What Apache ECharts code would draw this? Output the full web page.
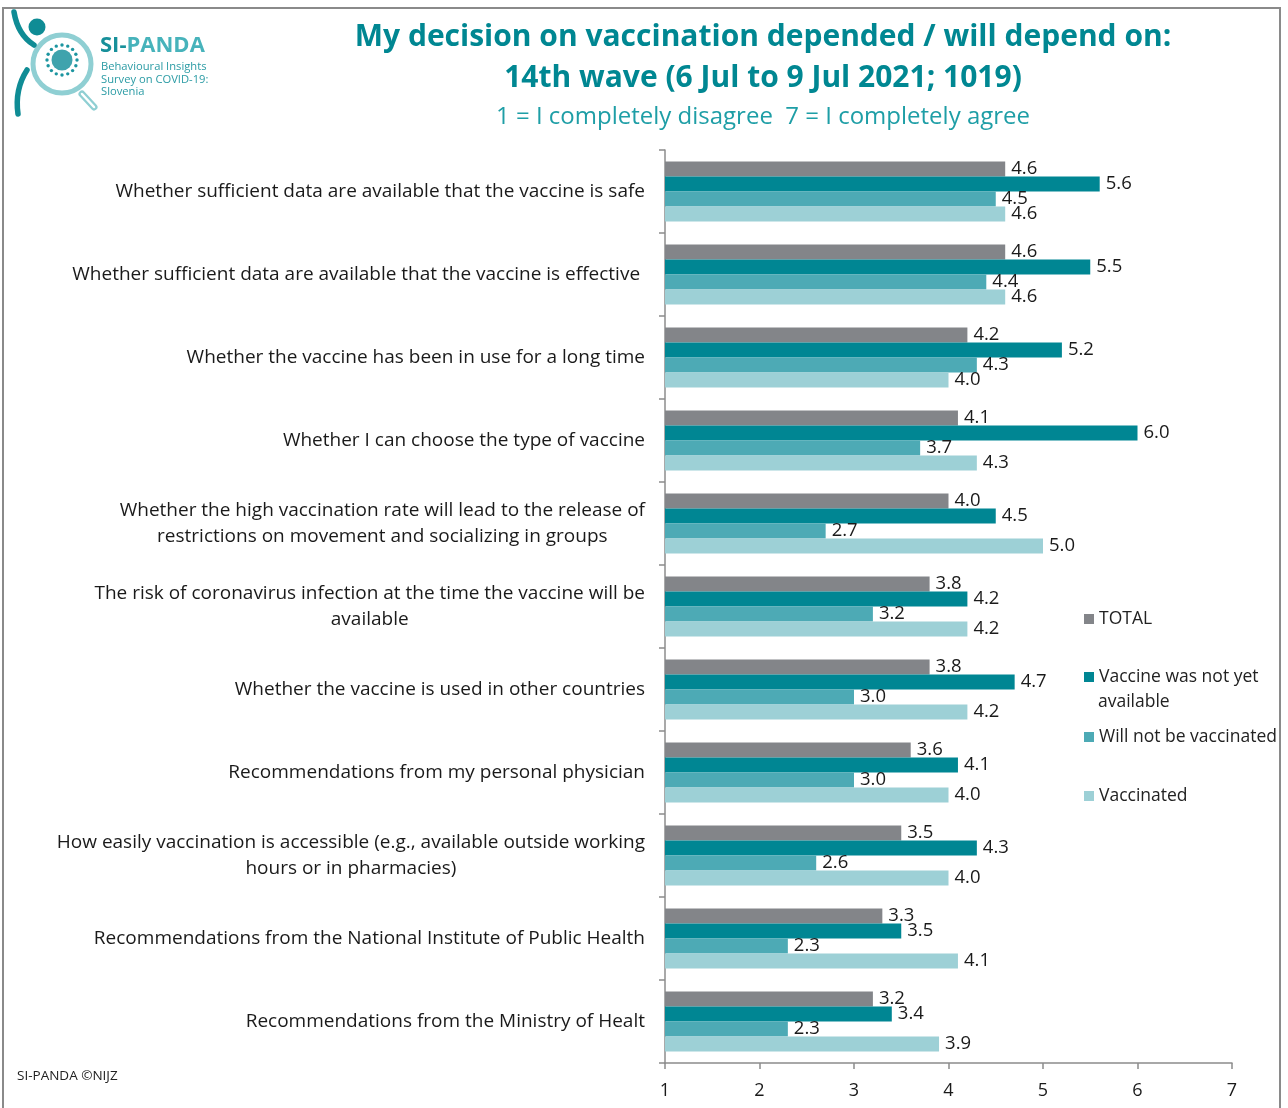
<!DOCTYPE html>
<html>
<head>
<meta charset="utf-8">
<title>SI-PANDA – vaccination decision factors</title>
<script src="https://cdn.jsdelivr.net/npm/echarts@6/dist/echarts.min.js"></script>
<style>
  html, body { margin: 0; padding: 0; background: #fff; }
  #chart { width: 1288px; height: 1108px; }
</style>
</head>
<body>
<div id="chart"></div>
<script>
// Survey items (top to bottom)
const categories = [
  'Whether sufficient data are available that the vaccine is safe',
  'Whether sufficient data are available that the vaccine is effective ',
  'Whether the vaccine has been in use for a long time',
  'Whether I can choose the type of vaccine',
  'Whether the high vaccination rate will lead to the release of\nrestrictions on movement and socializing in groups',
  'The risk of coronavirus infection at the time the vaccine will be\navailable',
  'Whether the vaccine is used in other countries',
  'Recommendations from my personal physician',
  'How easily vaccination is accessible (e.g., available outside working\nhours or in pharmacies)',
  'Recommendations from the National Institute of Public Health',
  'Recommendations from the Ministry of Healt'
];

const seriesNames = ['TOTAL', 'Vaccine was not yet available', 'Will not be vaccinated', 'Vaccinated'];

// Mean agreement (1–7) per group
const totalValues       = [4.6, 4.6, 4.2, 4.1, 4.0, 3.8, 3.8, 3.6, 3.5, 3.3, 3.2];
const notYetValues      = [5.6, 5.5, 5.2, 6.0, 4.5, 4.2, 4.7, 4.1, 4.3, 3.5, 3.4];
const willNotValues     = [4.5, 4.4, 4.3, 3.7, 2.7, 3.2, 3.0, 3.0, 2.6, 2.3, 2.3];
const vaccinatedValues  = [4.6, 4.6, 4.0, 4.3, 5.0, 4.2, 4.2, 4.0, 4.0, 4.1, 3.9];

const xTicks = [1, 2, 3, 4, 5, 6, 7];

const colors = ['#838589', '#008693', '#4DAAB5', '#9DD0D6'];
const FONT = '"Open Sans", "Noto Sans", sans-serif';

const chart = echarts.init(document.getElementById('chart'), null, { renderer: 'canvas' });

function barSeries(name, data, color) {
  return {
    name: name,
    type: 'bar',
    data: data,
    barWidth: 15,
    barGap: '0%',
    itemStyle: { color: color },
    label: {
      show: true,
      position: 'right',
      distance: 6,
      color: '#1a1a1a',
      fontFamily: FONT,
      fontSize: 18.5,
      formatter: p => p.value.toFixed(1)
    }
  };
}

// one legend block per series so each entry sits at its own height
function legendAt(name, top, text) {
  return {
    data: [name],
    left: 1079,
    top: top,
    orient: 'vertical',
    icon: 'rect',
    itemWidth: 10,
    itemHeight: 10,
    itemGap: 4,
    selectedMode: false,
    formatter: () => text,
    textStyle: { fontFamily: FONT, fontSize: 17.5, color: '#222' }
  };
}

const option = {
  animation: false,
  backgroundColor: '#fff',
  title: {
    text: 'My decision on vaccination depended / will depend on:\n14th wave (6 Jul to 9 Jul 2021; 1019)',
    subtext: '1 = I completely disagree  7 = I completely agree',
    left: 758,
    top: 12,
    textAlign: 'center',
    itemGap: 6,
    textStyle: { fontFamily: FONT, fontWeight: 'bold', fontSize: 30, lineHeight: 41, color: '#008792' },
    subtextStyle: { fontFamily: FONT, fontSize: 24, color: '#1E9EA6' }
  },
  legend: [
    legendAt(seriesNames[0], 605, 'TOTAL'),
    legendAt(seriesNames[1], 663, 'Vaccine was not yet'),
    legendAt(seriesNames[2], 723, 'Will not be vaccinated'),
    legendAt(seriesNames[3], 782, 'Vaccinated')
  ],
  grid: { left: 665, right: 56, top: 150, bottom: 45, containLabel: false },
  xAxis: {
    type: 'value',
    min: 1,
    max: 7,
    interval: 1,
    splitLine: { show: false },
    axisLine: { show: true, lineStyle: { color: '#8c8c8c', width: 1.5 } },
    axisTick: { show: true, length: 6, lineStyle: { color: '#8c8c8c', width: 1.5 } },
    axisLabel: {
      fontFamily: FONT, fontSize: 18, color: '#1a1a1a', margin: 19,
      formatter: v => xTicks.includes(v) ? String(v) : ''
    }
  },
  yAxis: {
    type: 'category',
    inverse: true,
    data: categories,
    axisLine: { show: true, lineStyle: { color: '#8c8c8c', width: 1.5 } },
    axisTick: { show: true, length: 6, lineStyle: { color: '#8c8c8c', width: 1.5 } },
    axisLabel: {
      margin: 20,
      fontFamily: FONT,
      fontSize: 19,
      color: '#1a1a1a',
      lineHeight: 26,
      formatter: v => v.split('\n').map(l => '{c|' + l + '}').join('\n'),
      rich: { c: { align: 'center', fontFamily: FONT, fontSize: 19, color: '#1a1a1a', lineHeight: 26 } }
    }
  },
  series: [
    barSeries(seriesNames[0], totalValues, colors[0]),
    barSeries(seriesNames[1], notYetValues, colors[1]),
    barSeries(seriesNames[2], willNotValues, colors[2]),
    barSeries(seriesNames[3], vaccinatedValues, colors[3])
  ],
  graphic: [
    // outer frame
    { type: 'rect', shape: { x: 3, y: 8, width: 1277, height: 1110 }, style: { fill: 'none', stroke: '#8a8a8a', lineWidth: 2 }, silent: true },
    // second line of the wrapped legend entry
    { type: 'text', left: 1098, top: 693, style: { text: 'available', fontFamily: FONT, fontSize: 17.5, fill: '#222' }, silent: true },
    // logo: magnifier handle
    { type: 'line', shape: { x1: 82, y1: 94, x2: 94, y2: 107 }, style: { stroke: '#8FCFD3', lineWidth: 7, lineCap: 'round' }, silent: true },
    { type: 'line', shape: { x1: 82, y1: 94, x2: 94, y2: 107 }, style: { stroke: '#ffffff', lineWidth: 2.5, lineCap: 'round' }, silent: true },
    // logo: magnifier ring
    { type: 'circle', shape: { cx: 62, cy: 64, r: 29 }, style: { fill: 'none', stroke: '#8FCFD3', lineWidth: 5 }, silent: true },
    // logo: figure arm, head and leg
    { type: 'bezierCurve', shape: { x1: 14, y1: 12, x2: 34, y2: 45, cpx1: 17, cpy1: 30, cpx2: 26, cpy2: 40 }, style: { stroke: '#0F8C95', lineWidth: 5.5, lineCap: 'round' }, silent: true },
    { type: 'circle', shape: { cx: 37, cy: 27, r: 8.5 }, style: { fill: '#0F8C95' }, silent: true },
    { type: 'bezierCurve', shape: { x1: 27, y1: 70, x2: 18, y2: 114, cpx1: 18, cpy1: 84, cpx2: 16, cpy2: 100 }, style: { stroke: '#0F8C95', lineWidth: 5.5, lineCap: 'round' }, silent: true },
    // logo: virus
    { type: 'circle', shape: { cx: 62, cy: 60, r: 10.5 }, style: { fill: '#3FA3AD' }, silent: true },
    ...Array.from({ length: 16 }, (_, i) => {
      const a = i / 16 * Math.PI * 2;
      return { type: 'circle', shape: { cx: 62 + Math.cos(a) * 15, cy: 60 + Math.sin(a) * 15, r: 1.7 }, style: { fill: '#1C95A0' }, silent: true };
    }),
    // logo: wordmark
    { type: 'text', left: 100, top: 35, style: { text: '{a|SI-}{b|PANDA}', rich: { a: { fontFamily: FONT, fontWeight: 'bold', fontSize: 22, fill: '#17909A' }, b: { fontFamily: FONT, fontWeight: 'bold', fontSize: 22, fill: '#47B3BB' } } }, silent: true },
    { type: 'text', left: 101, top: 61, style: { text: 'Behavioural Insights\nSurvey on COVID-19:\nSlovenia', fontFamily: FONT, fontSize: 11.2, lineHeight: 12.5, fill: '#2A9BA4' }, silent: true },
    // footer
    { type: 'text', left: 17, top: 1069, style: { text: 'SI-PANDA ©NIJZ', fontFamily: FONT, fontSize: 13.5, fill: '#222' }, silent: true }
  ]
};

chart.setOption(option);
</script>
</body>
</html>
